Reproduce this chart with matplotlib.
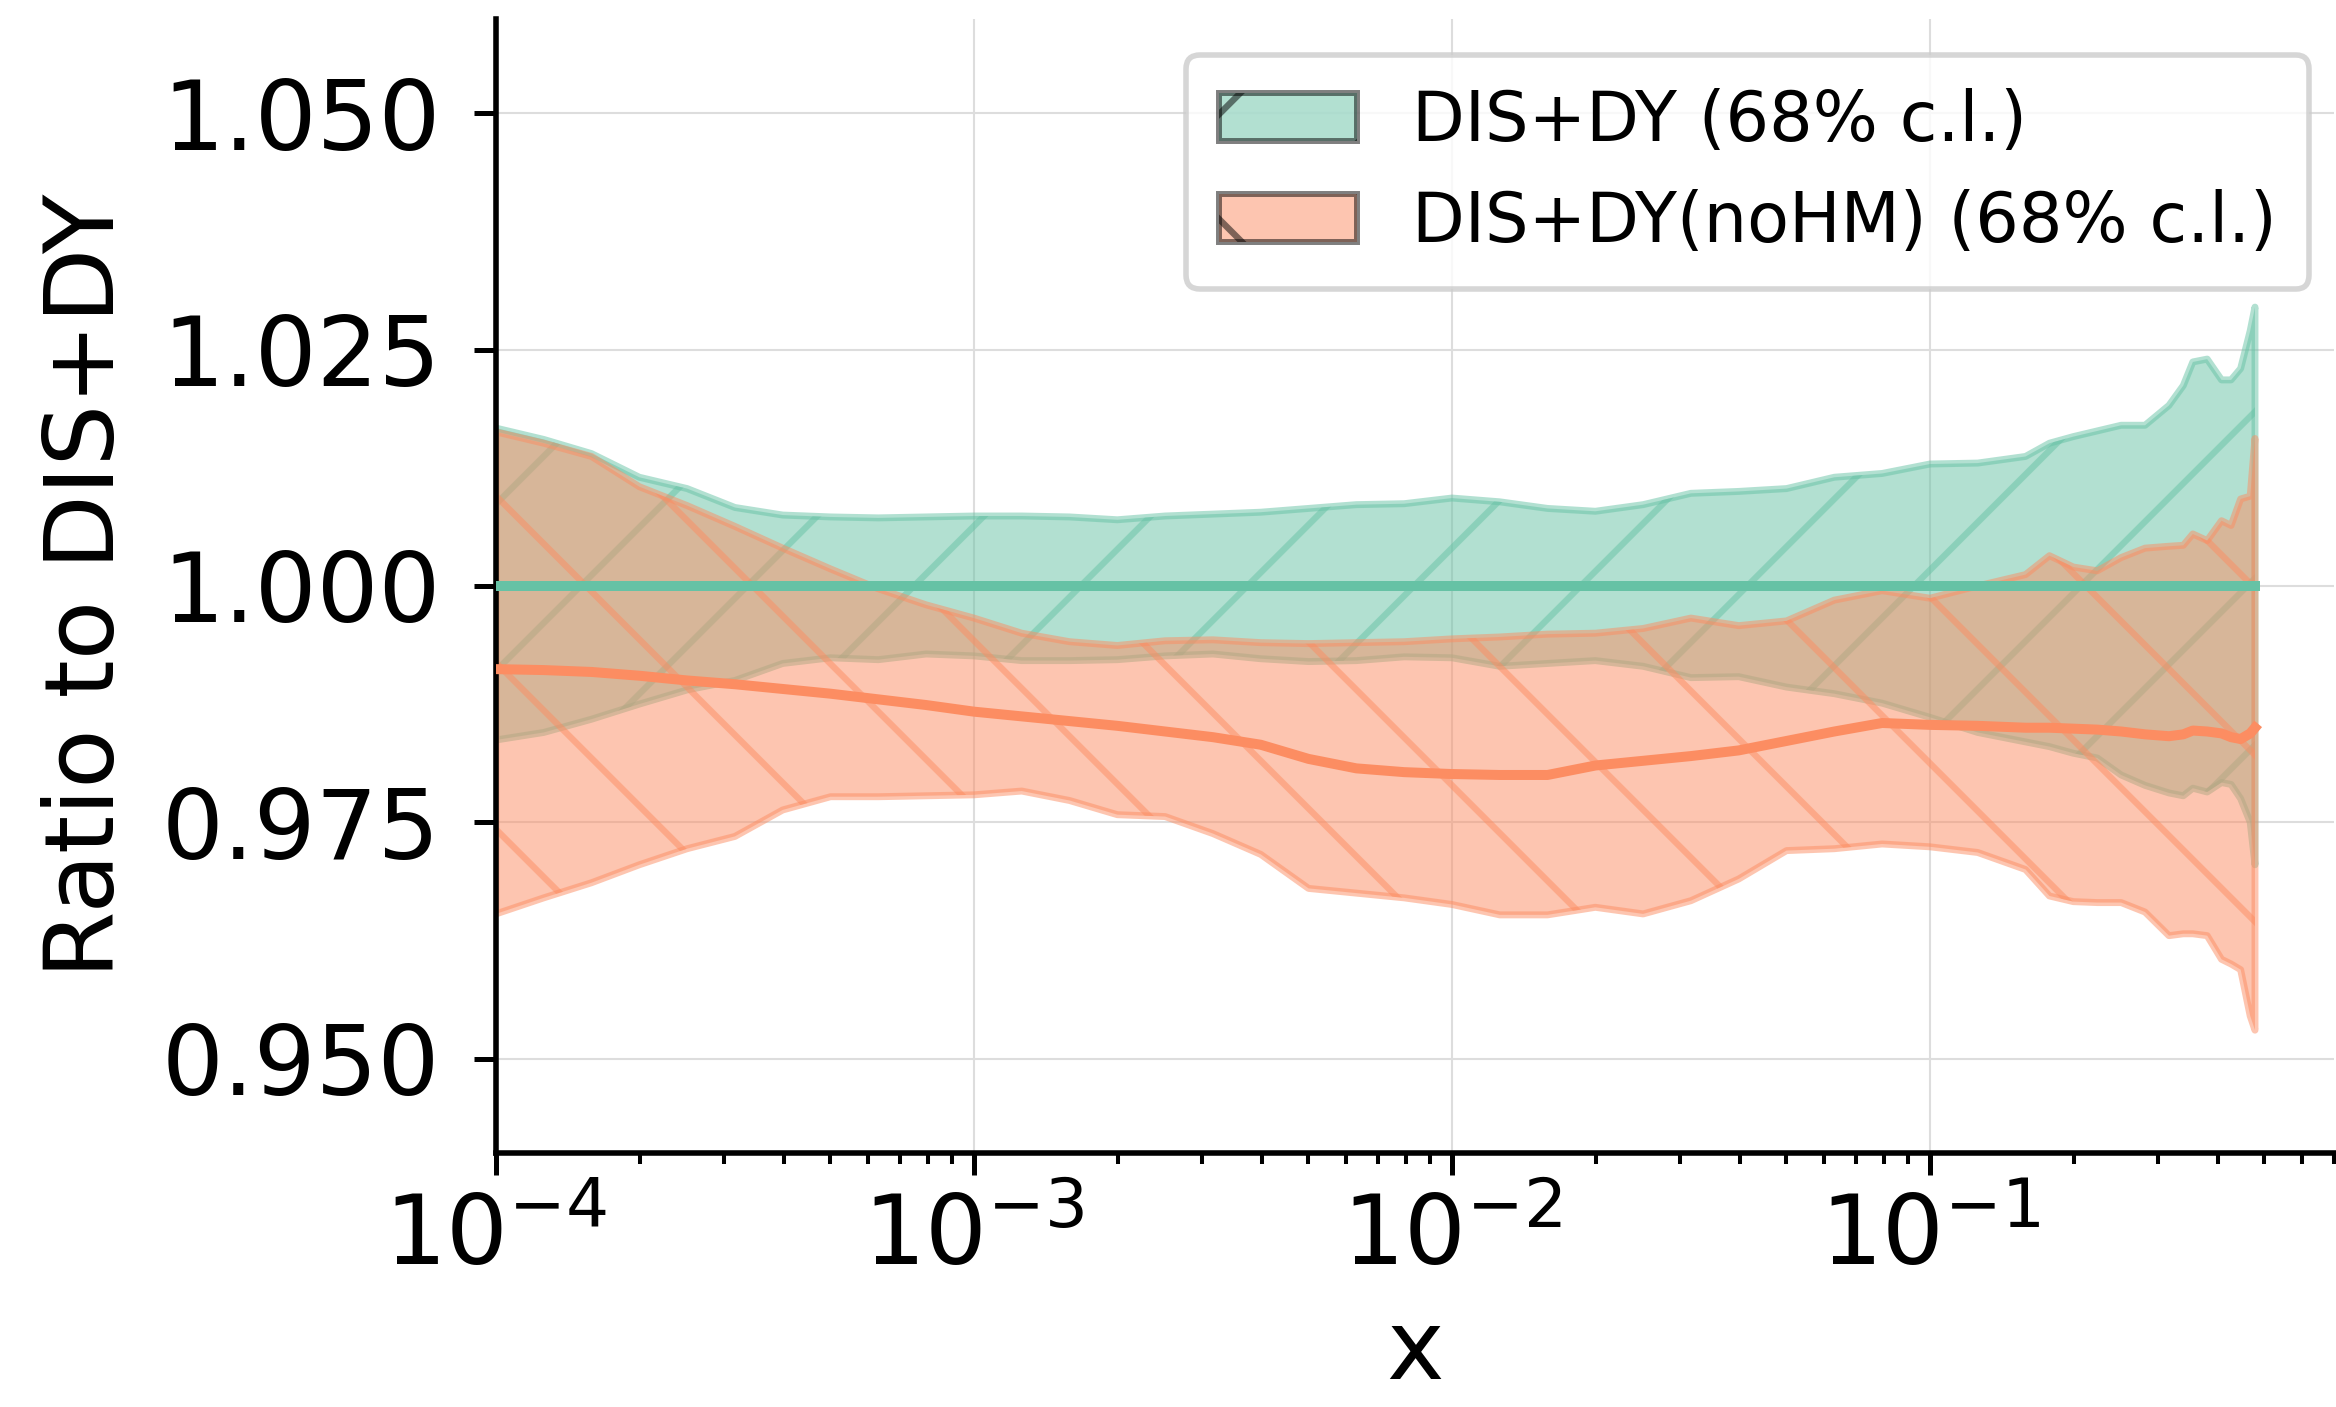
import numpy as np
import matplotlib
matplotlib.use("Agg")
import matplotlib.pyplot as plt
import matplotlib.patches as mpatches

log10_x = [-4.0, -3.9, -3.8, -3.7, -3.6, -3.5, -3.4, -3.3, -3.2, -3.1,
           -3.0, -2.9, -2.8, -2.7, -2.6, -2.5, -2.4, -2.3, -2.2, -2.1,
           -2.0, -1.9, -1.8, -1.7, -1.6, -1.5, -1.4, -1.3, -1.2, -1.1,
           -1.0, -0.9, -0.8, -0.75, -0.7, -0.65, -0.6, -0.55, -0.5, -0.47,
           -0.45, -0.42, -0.39, -0.37, -0.35, -0.33, -0.32]

# DIS+DY (reference) 68% band
ref_up = [1.0167, 1.0155, 1.0140, 1.0115, 1.0103, 1.0083, 1.0075, 1.0073, 1.0072, 1.0073,
          1.0074, 1.0074, 1.0073, 1.0070, 1.0074, 1.0076, 1.0078, 1.0082, 1.0086, 1.0087,
          1.0093, 1.0089, 1.0082, 1.0079, 1.0086, 1.0098, 1.0100, 1.0103, 1.0115, 1.0119,
          1.0129, 1.0130, 1.0137, 1.0151, 1.0158, 1.0164, 1.0170, 1.0170, 1.0191, 1.0212,
          1.0237, 1.0240, 1.0218, 1.0218, 1.0230, 1.0270, 1.0295]
ref_lo = [0.9837, 0.9845, 0.9859, 0.9875, 0.9890, 0.9900, 0.9918, 0.9924, 0.9922, 0.9928,
          0.9926, 0.9921, 0.9921, 0.9922, 0.9926, 0.9928, 0.9923, 0.9920, 0.9921, 0.9925,
          0.9924, 0.9915, 0.9918, 0.9921, 0.9915, 0.9903, 0.9904, 0.9893, 0.9886, 0.9876,
          0.9861, 0.9845, 0.9835, 0.9830, 0.9823, 0.9818, 0.9800, 0.9789, 0.9781, 0.9778,
          0.9786, 0.9782, 0.9792, 0.9790, 0.9775, 0.9750, 0.9705]

# DIS+DY(noHM) 68% band and central value
nohm_up = [1.0163, 1.0151, 1.0137, 1.0105, 1.0085, 1.0063, 1.0040, 1.0018, 0.9997, 0.9980,
           0.9966, 0.9950, 0.9941, 0.9937, 0.9942, 0.9943, 0.9940, 0.9939, 0.9940, 0.9941,
           0.9944, 0.9946, 0.9949, 0.9950, 0.9955, 0.9966, 0.9958, 0.9963, 0.9985, 0.9995,
           0.9987, 1.0000, 1.0012, 1.0032, 1.0020, 1.0016, 1.0030, 1.0040, 1.0042, 1.0043,
           1.0055, 1.0048, 1.0069, 1.0064, 1.0092, 1.0095, 1.0156]
nohm_lo = [0.9653, 0.9670, 0.9686, 0.9705, 0.9722, 0.9735, 0.9763, 0.9777, 0.9777, 0.9778,
           0.9779, 0.9783, 0.9773, 0.9758, 0.9756, 0.9738, 0.9716, 0.9680, 0.9675, 0.9670,
           0.9663, 0.9652, 0.9652, 0.9660, 0.9653, 0.9667, 0.9690, 0.9720, 0.9722, 0.9727,
           0.9724, 0.9718, 0.9700, 0.9672, 0.9666, 0.9665, 0.9665, 0.9655, 0.9630, 0.9632,
           0.9632, 0.9630, 0.9605, 0.9600, 0.9594, 0.9545, 0.9530]
nohm_cv = [0.9912, 0.9911, 0.9909, 0.9905, 0.9900, 0.9896, 0.9891, 0.9886, 0.9880, 0.9874,
           0.9867, 0.9862, 0.9857, 0.9852, 0.9846, 0.9840, 0.9832, 0.9817, 0.9807, 0.9803,
           0.9801, 0.9800, 0.9800, 0.9810, 0.9815, 0.9820, 0.9826, 0.9836, 0.9846, 0.9855,
           0.9853, 0.9852, 0.9850, 0.9850, 0.9849, 0.9848, 0.9846, 0.9843, 0.9841, 0.9843,
           0.9847, 0.9846, 0.9844, 0.9840, 0.9838, 0.9844, 0.9850]

labels = ["DIS+DY (68% c.l.)", "DIS+DY(noHM) (68% c.l.)"]
colors = ["#66c2a5", "#fc8d62"]
hatches = ["//", "\\\\"]

# small figure at high dpi (keeps the sparse hatching of the original)
DPI = 1000
plt.rcParams["hatch.linewidth"] = 0.46
plt.rcParams["font.family"] = "DejaVu Sans"

fig = plt.figure(figsize=(2336 / DPI, 1407 / DPI), dpi=DPI)
ax = fig.add_axes([0.2123, 0.1805, 0.7868, 0.8061])

x = 10 ** np.array(log10_x)
ref_cv = np.ones_like(x)

bands = [(ref_lo, ref_up, ref_cv), (nohm_lo, nohm_up, nohm_cv)]
handles = []
for i, (lo, up, cv) in enumerate(bands):
    ax.fill_between(x, lo, up, color=colors[i], alpha=0.5, hatch=hatches[i],
                    linewidth=0.5, zorder=1 + i)
    ax.plot(x, cv, color=colors[i], lw=0.72, zorder=5)
    handles.append(mpatches.Patch(facecolor=colors[i], edgecolor="black",
                                  alpha=0.5, hatch=hatches[i], linewidth=0.43))

ax.set_xscale("log")
ax.set_xlim(1e-4, 0.70)
ax.set_ylim(0.94, 1.06)
ax.set_yticks([0.950, 0.975, 1.000, 1.025, 1.050])
ax.set_yticklabels(["0.950", "0.975", "1.000", "1.025", "1.050"])

ax.set_xlabel("x", fontsize=7, labelpad=1.5)
ax.set_ylabel("Ratio to DIS+DY", fontsize=7, labelpad=2)

# styling
ax.grid(True, which="major", color="#dddddd", lw=0.15)
ax.set_axisbelow(True)
for side in ["top", "right"]:
    ax.spines[side].set_visible(False)
for side in ["left", "bottom"]:
    ax.spines[side].set_linewidth(0.4)
ax.tick_params(axis="both", which="major", labelsize=7, length=1.6, width=0.36)
ax.tick_params(axis="x", which="major", pad=1.2)
ax.tick_params(axis="y", which="major", pad=2.4)
ax.tick_params(axis="x", which="minor", length=0.8, width=0.29)
ax.tick_params(axis="y", which="minor", left=False)

leg = ax.legend(handles, labels, loc="upper right", fontsize=4.95,
                labelspacing=0.5, borderpad=0.48, borderaxespad=0,
                bbox_to_anchor=(0.9886, 0.961), bbox_transform=fig.transFigure)
leg.get_frame().set_linewidth(0.4)

fig.savefig("out.png", dpi=DPI)
